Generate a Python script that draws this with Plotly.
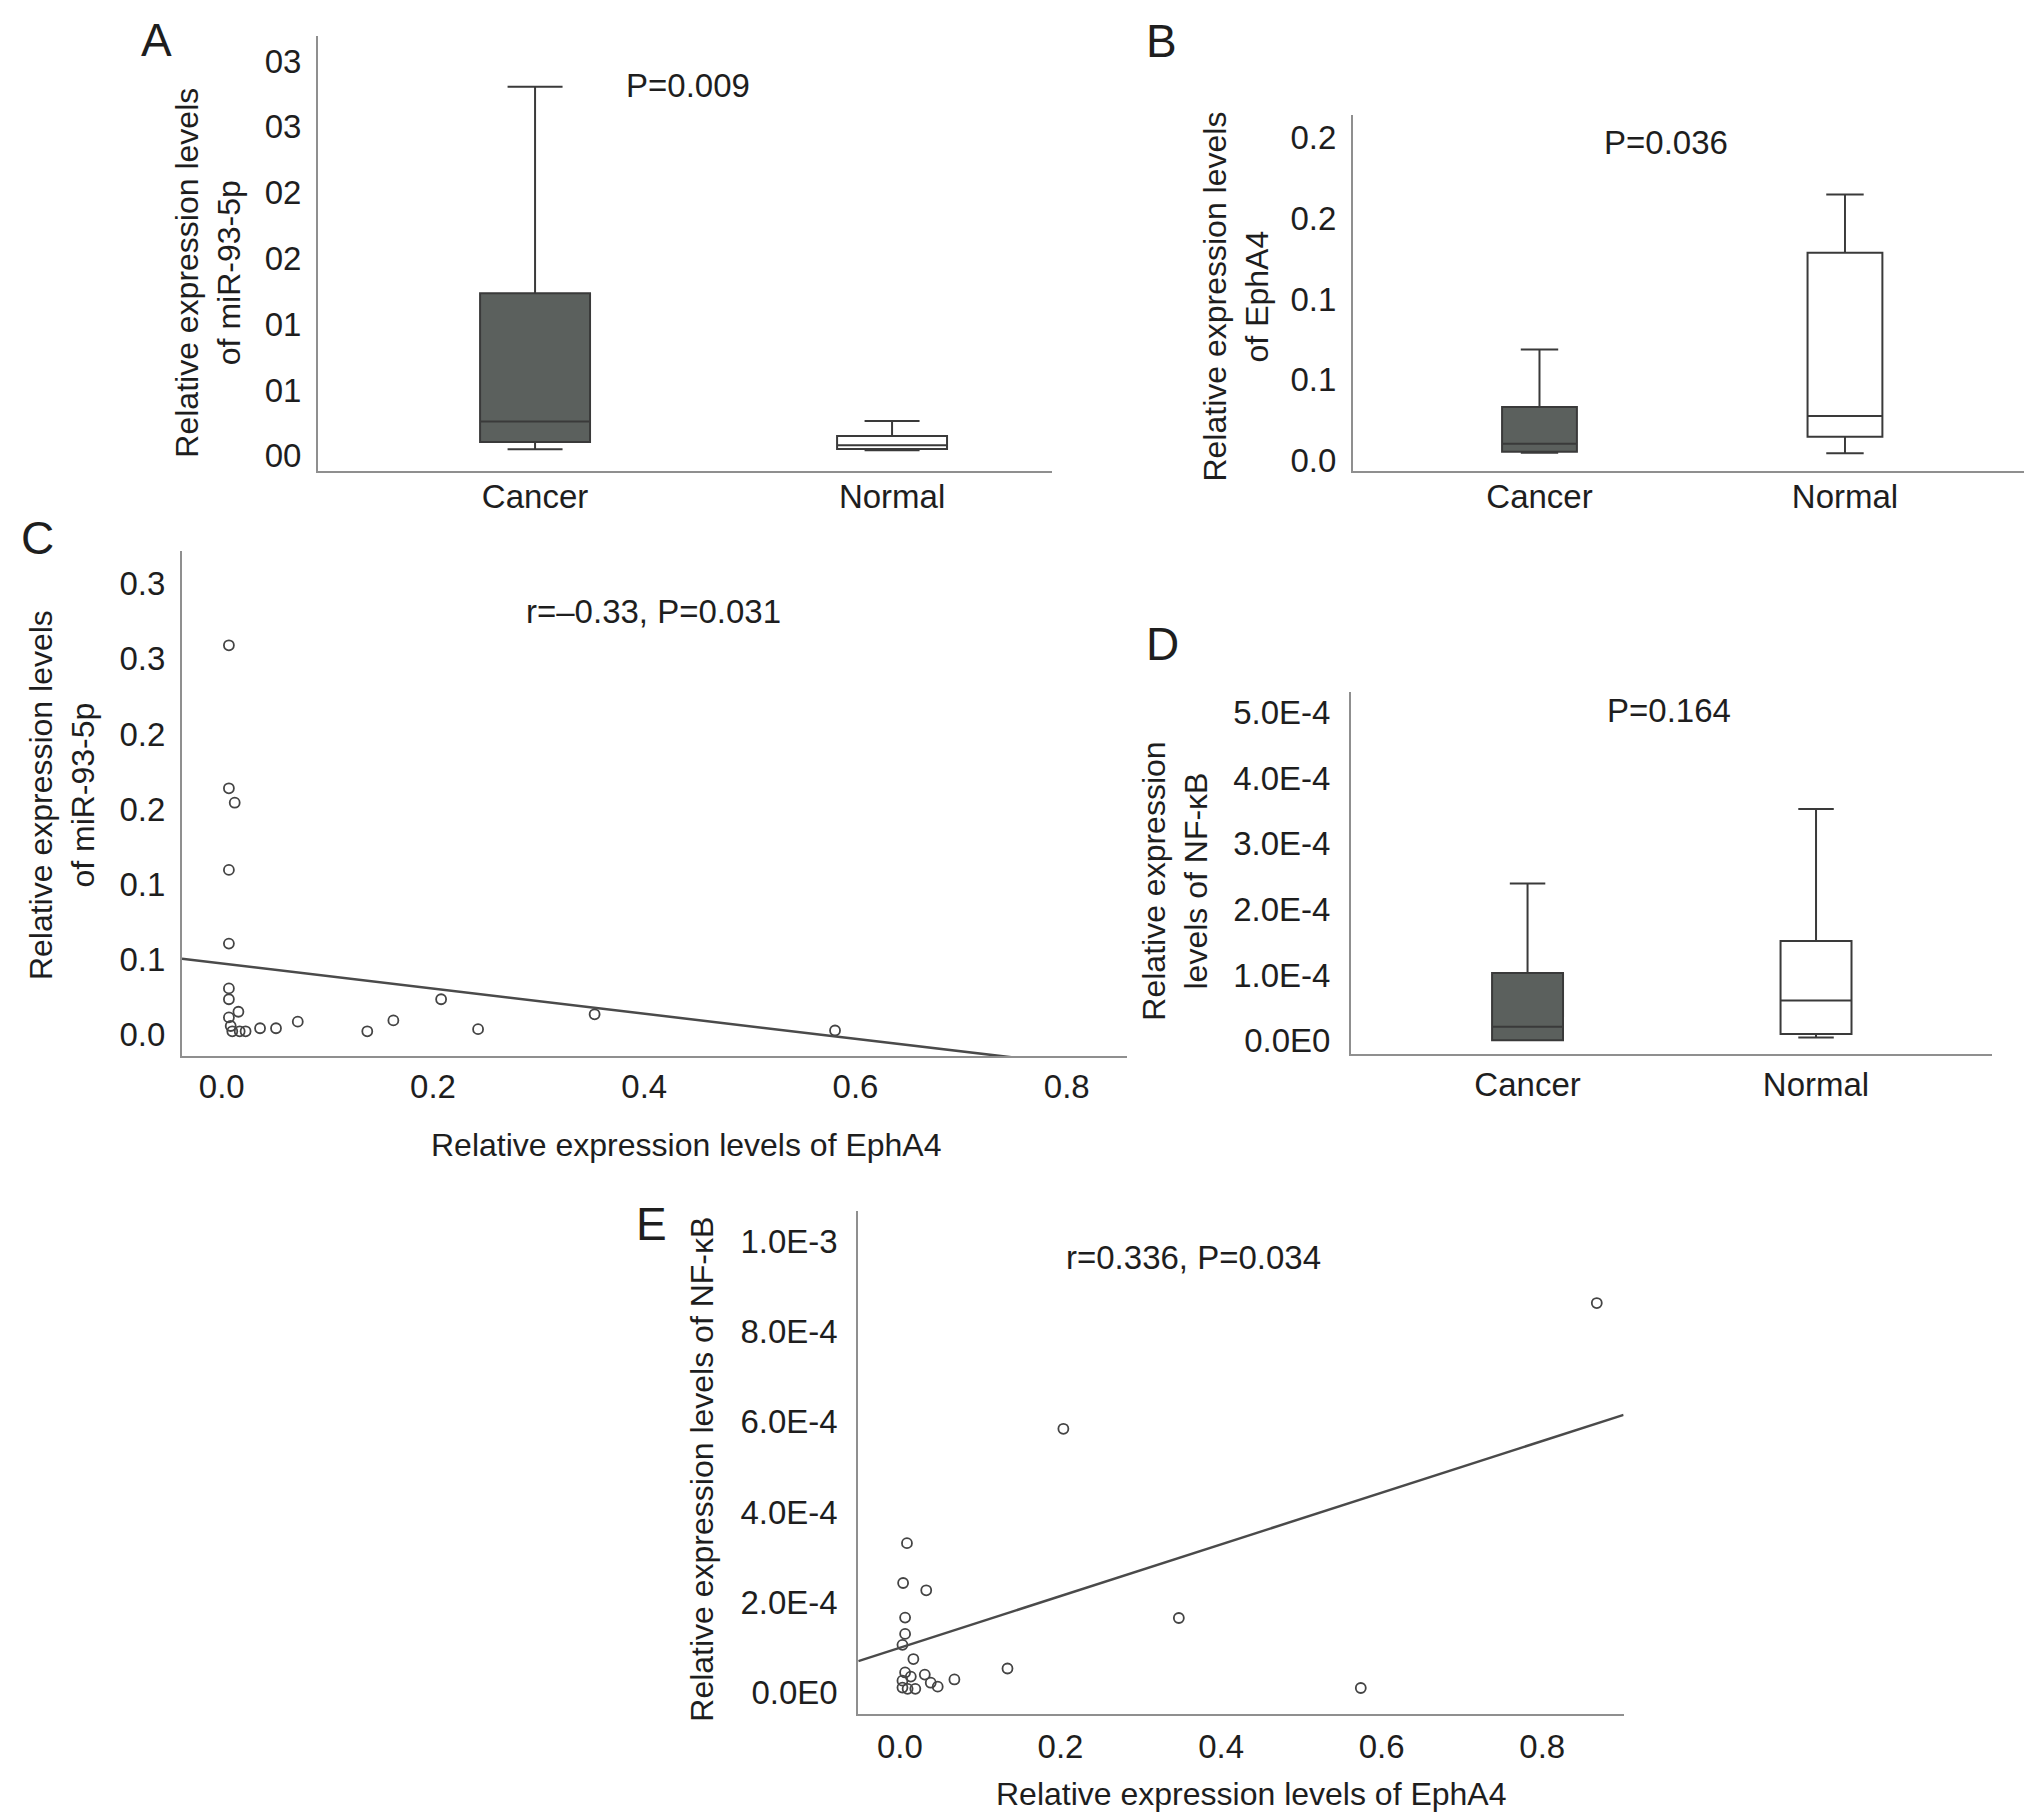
import plotly.graph_objects as go

# ---- data ----
groups = ["Cancer", "Normal"]

# A: miR-93-5p box stats (q1, median, q3, lower whisker, upper whisker)
a_q1 = [0.000106, 0.000051]
a_med = [0.00026, 0.000081]
a_q3 = [0.001235, 0.000151]
a_lo = [0.00005, 0.000043]
a_hi = [0.002806, 0.000265]
a_tickvals = [0, 0.0005, 0.001, 0.0015, 0.002, 0.0025, 0.003]
a_ticktext = ["00", "01", "01", "02", "02", "03", "03"]

# B: EphA4
b_q1 = [0.0055, 0.0148]
b_med = [0.0105, 0.0277]
b_q3 = [0.0332, 0.1285]
b_lo = [0.0049, 0.0047]
b_hi = [0.0687, 0.1646]
b_tickvals = [0, 0.05, 0.1, 0.15, 0.2]
b_ticktext = ["0.0", "0.1", "0.1", "0.2", "0.2"]

# C: EphA4 vs miR-93-5p
c_x = [0.0068, 0.0068, 0.0123, 0.0068, 0.0068, 0.0068, 0.0068, 0.0068, 0.0158,
       0.0085, 0.0100, 0.0170, 0.0226, 0.0363, 0.0514, 0.0720, 0.1378, 0.1625,
       0.2077, 0.2427, 0.3530, 0.5806]
c_y = [0.259, 0.1639, 0.1543, 0.1096, 0.0606, 0.0308, 0.0236, 0.0115, 0.0153,
       0.0058, 0.0023, 0.0023, 0.0023, 0.0043, 0.0043, 0.0087, 0.0023, 0.0095,
       0.0236, 0.0037, 0.0136, 0.0028]
c_fit = [0.0474, -0.0835]  # intercept, slope
c_ytickvals = [0, 0.05, 0.1, 0.15, 0.2, 0.25, 0.3]
c_yticktext = ["0.0", "0.1", "0.1", "0.2", "0.2", "0.3", "0.3"]
x_tickvals = [0, 0.2, 0.4, 0.6, 0.8]
x_ticktext = ["0.0", "0.2", "0.4", "0.6", "0.8"]

# D: NF-kB
d_q1 = [0.085e-5, 1.06e-5]
d_med = [2.15e-5, 6.14e-5]
d_q3 = [1.033e-4, 1.521e-4]
d_lo = [0.6e-5, 0.53e-5]
d_hi = [2.397e-4, 3.53e-4]
d_tickvals = [0, 1e-4, 2e-4, 3e-4, 4e-4, 5e-4]
d_ticktext = ["0.0E0", "1.0E-4", "2.0E-4", "3.0E-4", "4.0E-4", "5.0E-4"]

# E: EphA4 vs NF-kB
e_x = [0.8679, 0.2036, 0.0088, 0.0040, 0.0328, 0.0065, 0.3474, 0.0065, 0.0032,
       0.0168, 0.1340, 0.0065, 0.0310, 0.0136, 0.0384, 0.0679, 0.0471, 0.0032,
       0.0096, 0.0192, 0.5740, 0.0032]
e_y = [8.63e-4, 5.846e-4, 3.315e-4, 2.432e-4, 2.271e-4, 1.667e-4, 1.658e-4,
       1.306e-4, 1.064e-4, 0.749e-4, 0.540e-4, 0.452e-4, 0.405e-4, 0.361e-4,
       0.225e-4, 0.297e-4, 0.137e-4, 0.117e-4, 0.09e-4, 0.09e-4, 0.108e-4, 0.27e-4]
e_fit = [1.0e-4, 5.72e-4]
e_tickvals = [0, 2e-4, 4e-4, 6e-4, 8e-4, 1e-3]
e_ticktext = ["0.0E0", "2.0E-4", "4.0E-4", "6.0E-4", "8.0E-4", "1.0E-3"]

# ---- styling ----
W, H = 2032, 1818
FONT = "Liberation Sans, Arial, sans-serif"
TXT = "#1e1e1e"
fills = ["#5b605d", "#ffffff"]
box_line = "#3a3a3a"
axis_line = "#8f8f8f"


def px(x):
    return x / W


def py(y):
    return 1 - y / H


fig = go.Figure()


def add_boxes(n, q1, med, q3, lo, hi, width):
    for i, g in enumerate(groups):
        fig.add_trace(go.Box(
            x=[g], q1=[q1[i]], median=[med[i]], q3=[q3[i]],
            lowerfence=[lo[i]], upperfence=[hi[i]],
            width=width, whiskerwidth=0.5, boxpoints=False,
            fillcolor=fills[i], line=dict(color=box_line, width=2),
            xaxis="x" + n, yaxis="y" + n, hoverinfo="skip"))


def add_scatter(n, xs, ys, fit, xr):
    fig.add_trace(go.Scatter(
        x=xs, y=ys, mode="markers",
        marker=dict(symbol="circle-open", size=10, color="#444",
                    line=dict(width=1.8, color="#444")),
        xaxis="x" + n, yaxis="y" + n))
    fig.add_trace(go.Scatter(
        x=xr, y=[fit[0] + fit[1] * v for v in xr], mode="lines",
        line=dict(color="#4a4a4a", width=2.5),
        xaxis="x" + n, yaxis="y" + n))


add_boxes("", a_q1, a_med, a_q3, a_lo, a_hi, 0.308)
add_boxes("2", b_q1, b_med, b_q3, b_lo, b_hi, 0.245)
add_scatter("3", c_x, c_y, c_fit, [-0.0376, 0.857])
add_boxes("4", d_q1, d_med, d_q3, d_lo, d_hi, 0.246)
add_scatter("5", e_x, e_y, e_fit, [-0.0518, 0.9013])

ax = dict(showline=True, linecolor=axis_line, linewidth=2, ticks="",
          showgrid=False, zeroline=False,
          tickfont=dict(family=FONT, size=33, color=TXT))

layout = dict(
    width=W, height=H, margin=dict(l=0, r=0, t=0, b=0),
    paper_bgcolor="white", plot_bgcolor="white", showlegend=False,
    font=dict(family=FONT, size=33, color=TXT),
    # A
    xaxis=dict(ax, domain=[px(310), px(1044)], range=[-0.608, 1.448],
               ticklabelstandoff=-4, anchor="y"),
    yaxis=dict(ax, domain=[py(465), py(28)], range=[-0.000113, 0.003192],
               tickvals=a_tickvals, ticktext=a_ticktext,
               ticklabelstandoff=8, anchor="x"),
    # B
    xaxis2=dict(ax, domain=[px(1345), px(2023)], range=[-0.6105, 1.609],
                ticklabelstandoff=-4, anchor="y2"),
    yaxis2=dict(ax, domain=[py(465), py(108)], range=[-0.00615, 0.2134],
                tickvals=b_tickvals, ticktext=b_ticktext,
                ticklabelstandoff=8, anchor="x2"),
    # C
    xaxis3=dict(ax, domain=[px(174), px(1119)], range=[-0.0376, 0.857],
                tickvals=x_tickvals, ticktext=x_ticktext,
                ticklabelstandoff=0, anchor="y3"),
    yaxis3=dict(ax, domain=[py(1053.6), py(546)], range=[-0.0144, 0.3215],
                tickvals=c_ytickvals, ticktext=c_yticktext,
                ticklabelstandoff=8, anchor="x3"),
    # D
    xaxis4=dict(ax, domain=[px(1343), px(1984)], range=[-0.612, 1.610],
                ticklabelstandoff=0, anchor="y4"),
    yaxis4=dict(ax, domain=[py(1051.4), py(687.3)], range=[-0.203e-4, 5.314e-4],
                tickvals=d_tickvals, ticktext=d_ticktext,
                ticklabelstandoff=12, anchor="x4"),
    # E
    xaxis5=dict(ax, domain=[px(850.3), px(1615.6)], range=[-0.0518, 0.9013],
                tickvals=x_tickvals, ticktext=x_ticktext,
                ticklabelstandoff=2, anchor="y5"),
    yaxis5=dict(ax, domain=[py(1714.6), py(1208.6)], range=[-0.47e-4, 1.0676e-3],
                tickvals=e_tickvals, ticktext=e_ticktext,
                ticklabelstandoff=12, anchor="x5"),
)
fig.update_layout(layout)


def note(x, y, text, size=33, angle=0):
    fig.add_annotation(x=px(x), y=py(y), xref="paper", yref="paper",
                       text=text, showarrow=False, textangle=angle,
                       font=dict(family=FONT, size=size, color=TXT),
                       xanchor="center", yanchor="middle")


# panel letters
note(148, 32, "A", 46)
note(1153, 33, "B", 46)
note(29, 533, "C", 46)
note(1154, 639, "D", 46)
note(643, 1222, "E", 46)

# statistics
note(680, 78, "P=0.009")
note(1658, 135, "P=0.036")
note(645, 607, "r=\u20130.33, P=0.031")
note(1661, 706, "P=0.164")
note(1185, 1256, "r=0.336, P=0.034")

# axis titles
note(200, 266, "Relative expression levels<br>of miR-93-5p", 32, -90)
note(1228, 290, "Relative expression levels<br>of EphA4", 32, -90)
note(54, 791, "Relative expression levels<br>of miR-93-5p", 32, -90)
note(1167, 878, "Relative expression<br>levels of NF-\u03baB", 32, -90)
note(694, 1469, "Relative expression levels of NF-\u03baB", 32, -90)
note(678, 1143, "Relative expression levels of EphA4", 32)
note(1243, 1795, "Relative expression levels of EphA4", 32)

fig.write_html("out.html")
